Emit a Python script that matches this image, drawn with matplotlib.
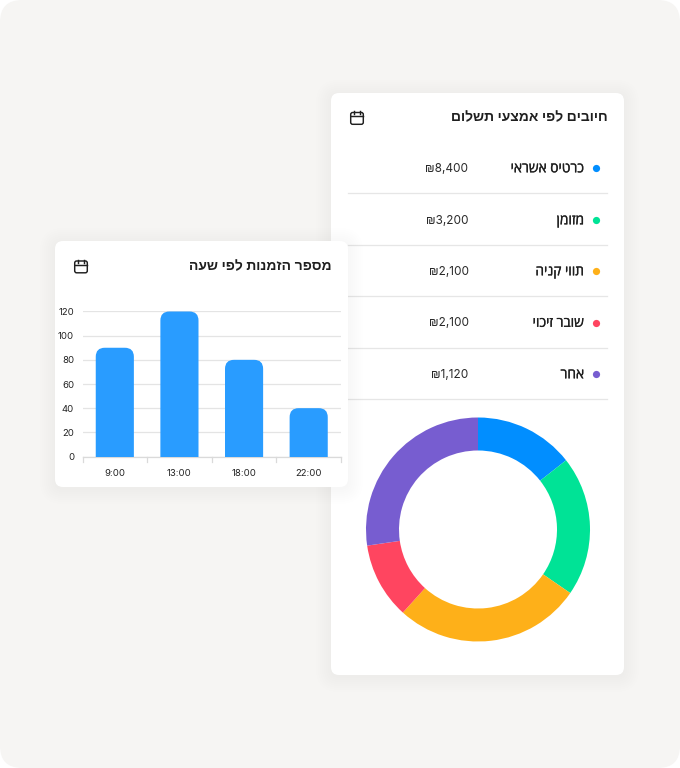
import matplotlib
matplotlib.use('Agg')
import matplotlib.pyplot as plt
import matplotlib.patheffects as pe
from matplotlib.patches import FancyBboxPatch

plt.rcParams['font.family'] = ['Open Sans', 'Liberation Sans', 'DejaVu Sans']

# Data
pay_title = 'חיובים לפי אמצעי תשלום'
pay_names = ['כרטיס אשראי', 'מזומן', 'תווי קניה', 'שובר זיכוי', 'אחר']
pay_amounts = ['₪8,400', '₪3,200', '₪2,100', '₪2,100', '₪1,120']
pay_colors = ['#018EFF', '#00E396', '#FEB019', '#FF4560', '#775DD0']
donut_share = [14.4, 20.2, 27.1, 11.0, 27.3]

bar_title = 'מספר הזמנות לפי שעה'
bar_hours = ['9:00', '13:00', '18:00', '22:00']
bar_orders = [90, 120, 80, 40]
bar_ticks = [0, 20, 40, 60, 80, 100, 120]

W, H = 680, 768
INK = '#1F1F1F'
GRID = '#E4E4E4'
NUM_FONT = ['Inter', 'DejaVu Sans']
THICKER = [pe.withStroke(linewidth=0.2, foreground=INK)]


# matplotlib does no right-to-left layout, so Hebrew goes in reversed
def rtl(s):
    return s[::-1]


def px_axes(x0, y0, x1, y1):
    return fig.add_axes([x0 / W, 1 - y1 / H, (x1 - x0) / W, (y1 - y0) / H])


def box(x0, y0, x1, y1, r, **kw):
    p = FancyBboxPatch((x0 + r, y0 + r), x1 - x0 - 2 * r, y1 - y0 - 2 * r,
                       boxstyle=f'round,pad={r},rounding_size={r}', **kw)
    bg.add_patch(p)


def card(x0, y0, x1, y1, z):
    # soft shadow from stacked see-through boxes, alpha high enough to survive 8-bit rounding
    for grow in range(15, 0, -2):
        box(x0 - grow, y0 - grow + 2, x1 + grow, y1 + grow + 2, 8 + grow,
            fc='black', ec='none', alpha=0.0055, zorder=z)
    box(x0, y0, x1, y1, 8, fc='white', ec='none', zorder=z + 0.5)


def calendar(cx, cy, z):
    box(cx - 6.3, cy - 5.5, cx + 6.3, cy + 6.3, 2, fc='none', ec=INK, lw=1.05, zorder=z)
    bg.plot([cx - 6.3, cx + 6.3], [cy - 2, cy - 2], color=INK, lw=1.05, zorder=z)
    for dx in (-3, 3):
        bg.plot([cx + dx, cx + dx], [cy - 7, cy - 4], color=INK, lw=1.05, zorder=z)


fig = plt.figure(figsize=(W / 100, H / 100), dpi=100, facecolor='white')

bg = px_axes(0, 0, W, H)
bg.set_xlim(0, W)
bg.set_ylim(H, 0)
bg.axis('off')
box(0, 0, W, H, 22, fc='#F6F5F3', ec='none', zorder=0)

# right card, payments list
card(331, 93, 624, 675, 1)
bg.text(607.5, 117.5, rtl(pay_title), ha='right', va='center', fontsize=10,
        fontweight='bold', color=INK, zorder=2)
calendar(357, 118, 2)

row_y = [168, 220, 271, 322.5, 374]
for y, name, amount, col in zip(row_y, pay_names, pay_amounts, pay_colors):
    bg.plot([596], [y], 'o', ms=5.2, color=col, mec='none', zorder=2)
    bg.text(584, y + 0.8, rtl(name), ha='right', va='center', fontsize=9.9,
            color=INK, zorder=2, path_effects=THICKER)
    bg.text(468.5, y + 1, amount, ha='right', va='center', fontsize=8.5,
            family=NUM_FONT, color='#2A2A2A', zorder=2)
    bg.plot([348, 607], [y + 25, y + 25], color='#E6E6E6', lw=0.9, zorder=2)

# left card on top of the right one
card(55, 241, 348, 487, 3)
bg.text(331.5, 266, rtl(bar_title), ha='right', va='center', fontsize=10,
        fontweight='bold', color=INK, zorder=4)
calendar(81, 266.5, 4)

# donut
pie_ax = px_axes(366, 417.5, 590, 641.5)
pie_ax.pie(donut_share, colors=pay_colors, startangle=90, counterclock=False,
           radius=1, wedgeprops={'width': 33 / 112, 'linewidth': 0})
pie_ax.set_xlim(-1, 1)
pie_ax.set_ylim(-1, 1)

# bars
ax = px_axes(82.5, 311.5, 341, 456.5)
ax.patch.set_alpha(0)
ax.set_xlim(-0.5, len(bar_hours) - 0.5)
ax.set_ylim(0, 120)
ax.set_yticks(bar_ticks)
ax.set_xticks(range(len(bar_hours)))
ax.set_xticklabels(bar_hours)
ax.grid(axis='y', color=GRID, lw=0.9, zorder=0)
ax.set_axisbelow(True)
ax.tick_params(axis='y', length=0, labelsize=6.9, labelcolor='#222222', pad=6)
ax.tick_params(axis='x', length=0, labelsize=6.9, labelcolor='#222222', pad=9)
for lab in ax.get_xticklabels() + ax.get_yticklabels():
    lab.set_family(NUM_FONT)
for side in ('top', 'right', 'left'):
    ax.spines[side].set_visible(False)
ax.spines['bottom'].set_color('#DADADA')
ax.spines['bottom'].set_linewidth(0.9)
for edge in range(len(bar_hours) + 1):
    ax.plot([edge - 0.5, edge - 0.5], [0, -4.5], color='#DADADA', lw=0.9, clip_on=False)

# rounded top, flat foot: the box starts under zero and the axes clip it
x_unit = (341 - 82.5) / len(bar_hours)
y_unit = 145 / 120
for i, v in enumerate(bar_orders):
    p = FancyBboxPatch((i - 0.295, -15), 0.59, v + 15,
                       boxstyle=f'round,pad=0,rounding_size={9 / x_unit}',
                       mutation_aspect=x_unit / y_unit,
                       fc='#299CFF', ec='none', zorder=3)
    ax.add_patch(p)

fig.savefig('out.png', dpi=100)
